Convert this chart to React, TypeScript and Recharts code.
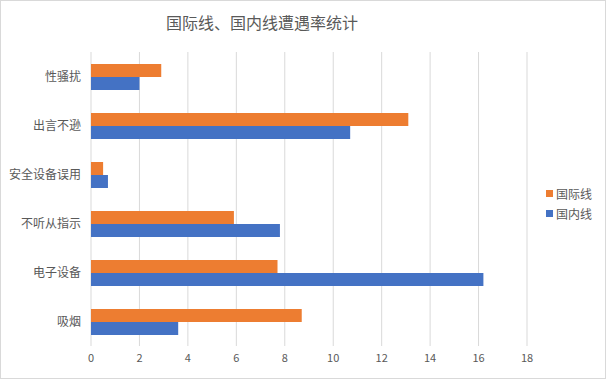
import { Bar, BarChart, CartesianGrid, XAxis, YAxis } from 'recharts';

const categories = ['性骚扰', '出言不逊', '安全设备误用', '不听从指示', '电子设备', '吸烟'];
const intlValues = [2.9, 13.1, 0.5, 5.9, 7.7, 8.7];
const domesticValues = [2.0, 10.7, 0.7, 7.8, 16.2, 3.6];
const xTicks = [0, 2, 4, 6, 8, 10, 12, 14, 16, 18];
const seriesNames = ['国际线', '国内线'];
const seriesColors = ['#ED7D31', '#4472C4'];

const data = categories.map((name, i) => ({
  name,
  intl: intlValues[i],
  domestic: domesticValues[i],
}));

const font = '"Noto Sans CJK SC", "Noto Sans", sans-serif';

export default function App() {
  return (
    <div
      style={{
        position: 'absolute',
        left: 0,
        top: 0,
        width: 606,
        height: 379,
        background: '#fff',
        fontFamily: font,
        boxSizing: 'border-box',
        border: '1px solid #d9d9d9',
      }}
    >
      <div
        style={{
          position: 'absolute',
          left: 161,
          width: 200,
          top: 9,
          textAlign: 'center',
          fontSize: 16,
          color: '#595959',
          whiteSpace: 'nowrap',
        }}
      >
        国际线、国内线遭遇率统计
      </div>
      <div style={{ position: 'absolute', left: -1, top: -1 }}>
        <BarChart
          width={606}
          height={379}
          data={data}
          layout="vertical"
          margin={{ top: 52, right: 79, bottom: 0, left: 0 }}
          barSize={13}
          barGap={0}
        >
          <CartesianGrid horizontal={false} stroke="#d9d9d9" />
          <XAxis
            type="number"
            domain={[0, 18]}
            ticks={xTicks}
            axisLine={false}
            tickLine={false}
            height={33}
            tick={{ fontSize: 11, fill: '#595959', fontFamily: font }}
          />
          <YAxis
            type="category"
            dataKey="name"
            width={91}
            axisLine={false}
            tickLine={false}
            tickMargin={4}
            tick={{ fontSize: 12, fill: '#595959', fontFamily: font }}
          />
          <Bar dataKey="intl" name={seriesNames[0]} fill={seriesColors[0]} isAnimationActive={false} />
          <Bar dataKey="domestic" name={seriesNames[1]} fill={seriesColors[1]} isAnimationActive={false} />
        </BarChart>
      </div>
      <div style={{ position: 'absolute', left: 545, top: 182, fontSize: 12, color: '#595959' }}>
        {seriesNames.map((n, i) => (
          <div key={n} style={{ display: 'flex', alignItems: 'center', height: 20 }}>
            <span
              style={{ width: 7, height: 7, background: seriesColors[i], marginRight: 3, display: 'inline-block' }}
            />
            {n}
          </div>
        ))}
      </div>
    </div>
  );
}
